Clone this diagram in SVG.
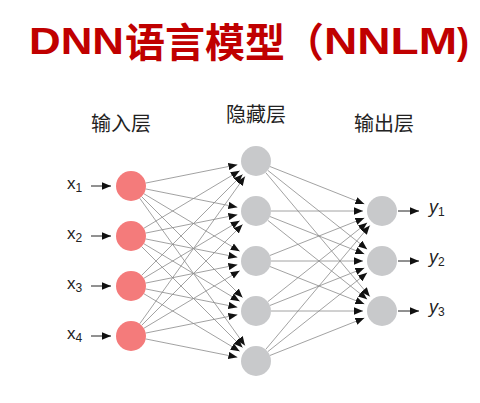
<svg xmlns="http://www.w3.org/2000/svg" width="480" height="403" viewBox="0 0 480 403">
<defs>
<marker id="ah" markerUnits="userSpaceOnUse" markerWidth="10" markerHeight="8" refX="9" refY="4" orient="auto">
<path d="M0,0.3 L9,4 L0,7.7 z" fill="#111"/>
</marker>
<style>
.title{font-family:"Liberation Sans","Noto Sans CJK SC",sans-serif;font-weight:bold;fill:#C00000}
.cjk{font-family:"Noto Sans CJK SC",sans-serif;font-weight:bold}
.layer{font-family:"Noto Sans CJK SC",sans-serif;font-size:20px;fill:#222;text-anchor:middle}
.lbl{font-family:"Liberation Sans",sans-serif;font-size:17px;fill:#222}
.sub{font-size:12px}
.in{fill:#F47B7B}
.hid{fill:#C8C9CB}
.c line{stroke:#8a8a8a;stroke-width:0.8;marker-end:url(#ah)}
.io line{stroke:#222;stroke-width:1;marker-end:url(#ah)}
</style>
</defs>
<rect width="480" height="403" fill="#fff"/>
<g id="title">
<text class="title" y="54" font-size="36"><tspan x="29" textLength="95" lengthAdjust="spacingAndGlyphs">DNN</tspan><tspan class="cjk" x="125" y="57" font-size="40">语言模型</tspan><tspan class="cjk" x="284" y="57" font-size="40">（</tspan><tspan x="324" y="54" textLength="133" lengthAdjust="spacingAndGlyphs">NNLM</tspan><tspan x="457" y="54">)</tspan></text>
</g>
<g id="layer-labels">
<text class="layer" x="121" y="131">输入层</text>
<text class="layer" x="256" y="122">隐藏层</text>
<text class="layer" x="384" y="131">输出层</text>
</g>
<g id="connectors" class="c">
<line x1="145.71" y1="183.06" x2="237.37" y2="164.73"/>
<line x1="145.71" y1="188.94" x2="237.37" y2="207.27"/>
<line x1="143.86" y1="193.72" x2="239.71" y2="251.22"/>
<line x1="141.61" y1="196.61" x2="242.57" y2="297.57"/>
<line x1="139.72" y1="198.21" x2="244.96" y2="345.54"/>
<line x1="143.86" y1="228.28" x2="239.71" y2="170.78"/>
<line x1="145.71" y1="233.06" x2="237.37" y2="214.73"/>
<line x1="145.71" y1="238.94" x2="237.37" y2="257.27"/>
<line x1="143.86" y1="243.72" x2="239.71" y2="301.22"/>
<line x1="141.61" y1="246.61" x2="242.57" y2="347.57"/>
<line x1="141.61" y1="275.39" x2="242.57" y2="174.43"/>
<line x1="143.86" y1="278.28" x2="239.71" y2="220.78"/>
<line x1="145.71" y1="283.06" x2="237.37" y2="264.73"/>
<line x1="145.71" y1="288.94" x2="237.37" y2="307.27"/>
<line x1="143.86" y1="293.72" x2="239.71" y2="351.22"/>
<line x1="139.72" y1="323.79" x2="244.96" y2="176.46"/>
<line x1="141.61" y1="325.39" x2="242.57" y2="224.43"/>
<line x1="143.86" y1="328.28" x2="239.71" y2="270.78"/>
<line x1="145.71" y1="333.06" x2="237.37" y2="314.73"/>
<line x1="145.71" y1="338.94" x2="237.37" y2="357.27"/>
<line x1="269.94" y1="166.53" x2="364.34" y2="203.99"/>
<line x1="267.75" y1="170.33" x2="367.12" y2="249.19"/>
<line x1="265.65" y1="172.49" x2="369.78" y2="296.45"/>
<line x1="271" y1="211" x2="363" y2="211"/>
<line x1="269.94" y1="216.53" x2="364.34" y2="253.99"/>
<line x1="267.75" y1="220.33" x2="367.12" y2="299.19"/>
<line x1="269.94" y1="255.47" x2="364.34" y2="218.01"/>
<line x1="271" y1="261" x2="363" y2="261"/>
<line x1="269.94" y1="266.53" x2="364.34" y2="303.99"/>
<line x1="267.75" y1="301.67" x2="367.12" y2="222.81"/>
<line x1="269.94" y1="305.47" x2="364.34" y2="268.01"/>
<line x1="271" y1="311" x2="363" y2="311"/>
<line x1="265.65" y1="349.51" x2="369.78" y2="225.55"/>
<line x1="267.75" y1="351.67" x2="367.12" y2="272.81"/>
<line x1="269.94" y1="355.47" x2="364.34" y2="318.01"/>
</g>
<g id="io-arrows" class="io">
<line x1="91" y1="186" x2="111" y2="186"/>
<line x1="91" y1="236" x2="111" y2="236"/>
<line x1="91" y1="286" x2="111" y2="286"/>
<line x1="91" y1="336" x2="111" y2="336"/>
<line x1="398" y1="211" x2="419" y2="211"/>
<line x1="398" y1="261" x2="419" y2="261"/>
<line x1="398" y1="311" x2="419" y2="311"/>
</g>
<g id="input-x1"><circle class="in" cx="131" cy="186" r="15"/><text class="lbl" x="67" y="189">x<tspan class="sub" dy="3">1</tspan></text></g>
<g id="input-x2"><circle class="in" cx="131" cy="236" r="15"/><text class="lbl" x="67" y="239">x<tspan class="sub" dy="3">2</tspan></text></g>
<g id="input-x3"><circle class="in" cx="131" cy="286" r="15"/><text class="lbl" x="67" y="289">x<tspan class="sub" dy="3">3</tspan></text></g>
<g id="input-x4"><circle class="in" cx="131" cy="336" r="15"/><text class="lbl" x="67" y="339">x<tspan class="sub" dy="3">4</tspan></text></g>
<g id="hidden-1"><circle class="hid" cx="256" cy="161" r="15"/></g>
<g id="hidden-2"><circle class="hid" cx="256" cy="211" r="15"/></g>
<g id="hidden-3"><circle class="hid" cx="256" cy="261" r="15"/></g>
<g id="hidden-4"><circle class="hid" cx="256" cy="311" r="15"/></g>
<g id="hidden-5"><circle class="hid" cx="256" cy="361" r="15"/></g>
<g id="output-y1"><circle class="hid" cx="382" cy="211" r="15"/><text class="lbl" x="429" y="213"><tspan font-style="italic" font-size="18">y</tspan><tspan class="sub" dy="3">1</tspan></text></g>
<g id="output-y2"><circle class="hid" cx="382" cy="261" r="15"/><text class="lbl" x="429" y="263"><tspan font-style="italic" font-size="18">y</tspan><tspan class="sub" dy="3">2</tspan></text></g>
<g id="output-y3"><circle class="hid" cx="382" cy="311" r="15"/><text class="lbl" x="429" y="313"><tspan font-style="italic" font-size="18">y</tspan><tspan class="sub" dy="3">3</tspan></text></g>
</svg>
